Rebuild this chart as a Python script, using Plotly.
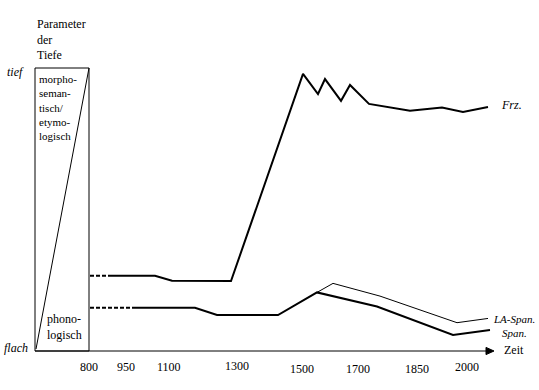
import plotly.graph_objects as go

# ---------------- data (schematic time position, depth 0=flach .. 100=tief) ----------------
tick_pos = [89, 126, 169, 237, 302, 358, 417, 467]
tick_labels = ["800", "950", "1100", "1300", "1500", "1700", "1850", "2000"]

frz_dash_x = [90, 110]
frz_dash_y = [26.6, 26.6]
frz_x = [110, 155, 172, 231, 303, 318, 325, 341, 350, 369, 410, 442, 463, 488]
frz_y = [26.6, 26.6, 24.8, 24.7, 97.9, 90.8, 96.1, 88.4, 94.0, 87.3, 84.9, 86.0, 84.5, 86.2]

span_dash_x = [90, 133]
span_dash_y = [15.3, 15.3]
span_x = [133, 195, 217, 278, 317, 377, 453, 490]
span_y = [15.3, 15.3, 12.7, 12.7, 20.7, 15.7, 5.7, 7.4]

la_x = [317, 333, 380, 457, 488]
la_y = [20.7, 23.9, 19.4, 10.0, 11.5]

# ---------------- layout helpers ----------------
W, H = 539, 390
PX_PER_UNIT = 2.83
AXIS_PIX = 351


def py(ypix):
    """pixel row -> depth units (layout placement only)"""
    return (AXIS_PIX - ypix) / PX_PER_UNIT


FAMILY = "Liberation Serif"
FONT = dict(family=FAMILY, size=12, color="black")

fig = go.Figure()

dash = dict(color="black", width=2, dash="4px,2px")
solid = dict(color="black", width=2)
fig.add_trace(go.Scatter(x=frz_dash_x, y=frz_dash_y, mode="lines", line=dash))
fig.add_trace(go.Scatter(x=frz_x, y=frz_y, mode="lines", line=solid))
fig.add_trace(go.Scatter(x=span_dash_x, y=span_dash_y, mode="lines", line=dash))
fig.add_trace(go.Scatter(x=la_x, y=la_y, mode="lines", line=dict(color="black", width=1)))
fig.add_trace(go.Scatter(x=span_x, y=span_y, mode="lines", line=solid))

shapes = [
    # box of the depth parameter
    dict(type="rect", x0=35, x1=89, y0=0, y1=100, line=dict(color="black", width=1)),
    dict(type="line", x0=36, y0=0.7, x1=89, y1=100, line=dict(color="black", width=1)),
    # time axis with arrow
    dict(type="line", x0=35, y0=0, x1=488, y1=0, line=dict(color="black", width=1)),
    dict(type="path", path=f"M 486,{3.6/PX_PER_UNIT} L 494,0 L 486,{-3.6/PX_PER_UNIT} Z",
         fillcolor="black", line=dict(color="black", width=1)),
]

annotations = []


def add_text(text, xpix, ypix, anchor="left", yanchor="middle", size=12, align="left"):
    annotations.append(dict(x=xpix, y=py(ypix), text=text, showarrow=False,
                            xanchor=anchor, yanchor=yanchor, align=align,
                            font=dict(family=FAMILY, size=size, color="black"),
                            borderpad=0, xref="x", yref="y"))


label_y = [367, 367, 367, 366, 369, 369, 369, 367]
for p, t, ly in zip(tick_pos, tick_labels, label_y):
    add_text(t, p, ly, anchor="center")

add_text("Parameter<br>der<br>Tiefe", 36, 16, yanchor="top")
add_text("<i>tief</i>", 6, 72)
add_text("<i>flach</i>", 3, 348)
add_text("morpho-<br>seman-<br>tisch/<br>etymo-<br>logisch", 38, 72, yanchor="top", size=11)
add_text("phono-<br>logisch", 46, 343, yanchor="bottom", size=12)
add_text("Zeit", 503, 350)
add_text("<i>Frz.</i>", 500, 105)
add_text("<i>LA-Span.</i>", 492, 319, size=11)
add_text("<i>Span.</i>", 501, 333, size=11)

fig.update_layout(
    width=W, height=H,
    margin=dict(l=0, r=0, t=0, b=0),
    paper_bgcolor="white", plot_bgcolor="white",
    showlegend=False,
    shapes=shapes,
    annotations=annotations,
    xaxis=dict(range=[0, W], visible=False, fixedrange=True),
    yaxis=dict(range=[py(H), py(0)], visible=False, fixedrange=True),
)

fig.write_html("out.html")
